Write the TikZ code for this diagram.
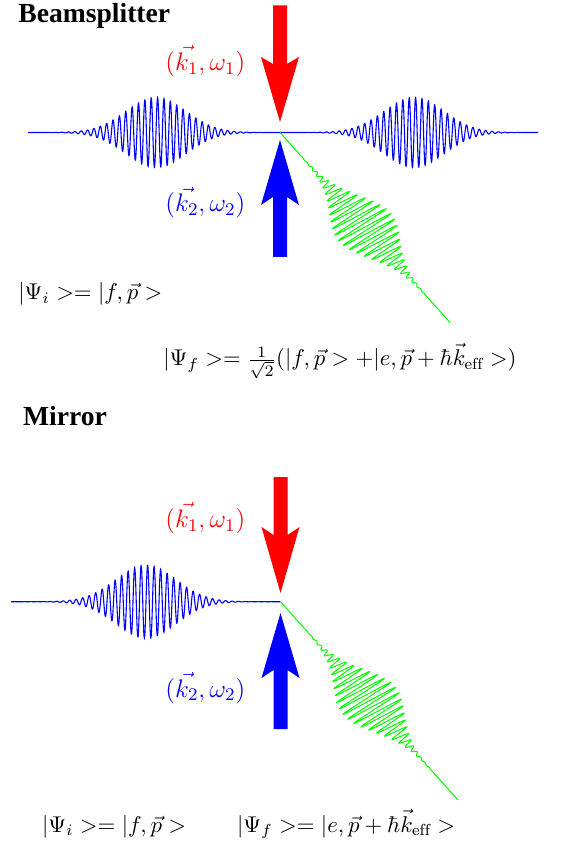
\RequirePackage{fix-cm}
\documentclass[tikz,border=0pt]{standalone}
\usepackage{fontspec}
\newfontfamily\headfont{Liberation Serif}
\tikzset{
  head/.style={font=\headfont\bfseries\fontsize{13.8}{16}\selectfont, anchor=base west, inner sep=0pt},
  lab/.style={font=\fontsize{12.7}{15}\selectfont, anchor=base west, inner sep=0pt},
  eq/.style={font=\fontsize{11.4}{14}\selectfont, anchor=base west, inner sep=0pt},
  bwave/.style={blue, line width=0.55pt},
  gwave/.style={green, line width=0.5pt},
}
\begin{document}
\begin{tikzpicture}[x=0.5pt,y=-0.5pt]
\useasboundingbox (0,0) rectangle (565,854);
% ---------------- Beamsplitter ----------------
\node[head] (bs) at (18,22.7) {Beamsplitter};
\fill[red] (273,5.5) -- (287,5.5) -- (287,64) -- (299,57) -- (280,122) -- (261,57) -- (273,64) -- cycle;
\fill[blue] (280,140) -- (299,205) -- (287,197) -- (287,257) -- (273,257) -- (273,197) -- (261,205) -- cycle;
\draw[bwave] plot[domain=28:280, samples=1300] (\x, {132.5 - 35*exp(-0.5*((\x-156)/30)^2)*sin(56.515*(\x-156))});
\draw[bwave] plot[domain=280:538, samples=1300] (\x, {132.5 - 35*exp(-0.5*((\x-414)/30)^2)*sin(56.515*(\x-414))});
\draw[gwave] plot[variable=\t, domain=0:255, samples=1400]
  ({280 + 0.6668*\t + 0.862*29*exp(-0.5*((\t-127)/30)^2)*sin(52.94*(\t-127))},
   {132.5 + 0.7452*\t - 0.507*29*exp(-0.5*((\t-127)/30)^2)*sin(52.94*(\t-127))});
\node[lab, red] (k1a) at (165,70.5) {$(\vec{k_1},\omega_1)$};
\node[lab, blue] (k2a) at (165,212) {$(\vec{k_2},\omega_2)$};
\node[eq] (psia) at (18,300) {$|\Psi_i >= |f,\vec{p}>$};
\node[eq] (psifa) at (163,366) {$|\Psi_f >= \frac{1}{\sqrt{2}}(|f,\vec{p}> +|e,\vec{p}+\hbar\vec{k}_{\mathrm{eff}}>)$};
% ---------------- Mirror ----------------
\node[head] (mir) at (22.7,425) {Mirror};
\fill[red] (273.5,477) -- (287.5,477) -- (287.5,535) -- (299.5,527) -- (280.5,593) -- (261.5,527) -- (273.5,535) -- cycle;
\fill[blue] (280.5,613) -- (299.5,678) -- (287.5,670) -- (287.5,729) -- (273.5,729) -- (273.5,670) -- (261.5,678) -- cycle;
\draw[bwave] plot[domain=11:280.5, samples=1300] (\x, {601.7 - 36.5*exp(-0.5*((\x-146)/30)^2)*sin(55.385*(\x-146))});
\draw[gwave] plot[variable=\t, domain=0:266, samples=1400]
  ({280.5 + 0.6668*\t + 0.862*29*exp(-0.5*((\t-133)/30)^2)*sin(52.94*(\t-133))},
   {601.7 + 0.7452*\t - 0.507*29*exp(-0.5*((\t-133)/30)^2)*sin(52.94*(\t-133))});
\node[lab, red] (k1b) at (165,527.5) {$(\vec{k_1},\omega_1)$};
\node[lab, blue] (k2b) at (165,697) {$(\vec{k_2},\omega_2)$};
\node[eq] (psib) at (41.7,832) {$|\Psi_i >= |f,\vec{p}>$};
\node[eq] (psifb) at (236.7,832) {$|\Psi_f >= |e,\vec{p}+\hbar\vec{k}_{\mathrm{eff}}>$};
\end{tikzpicture}
\end{document}
